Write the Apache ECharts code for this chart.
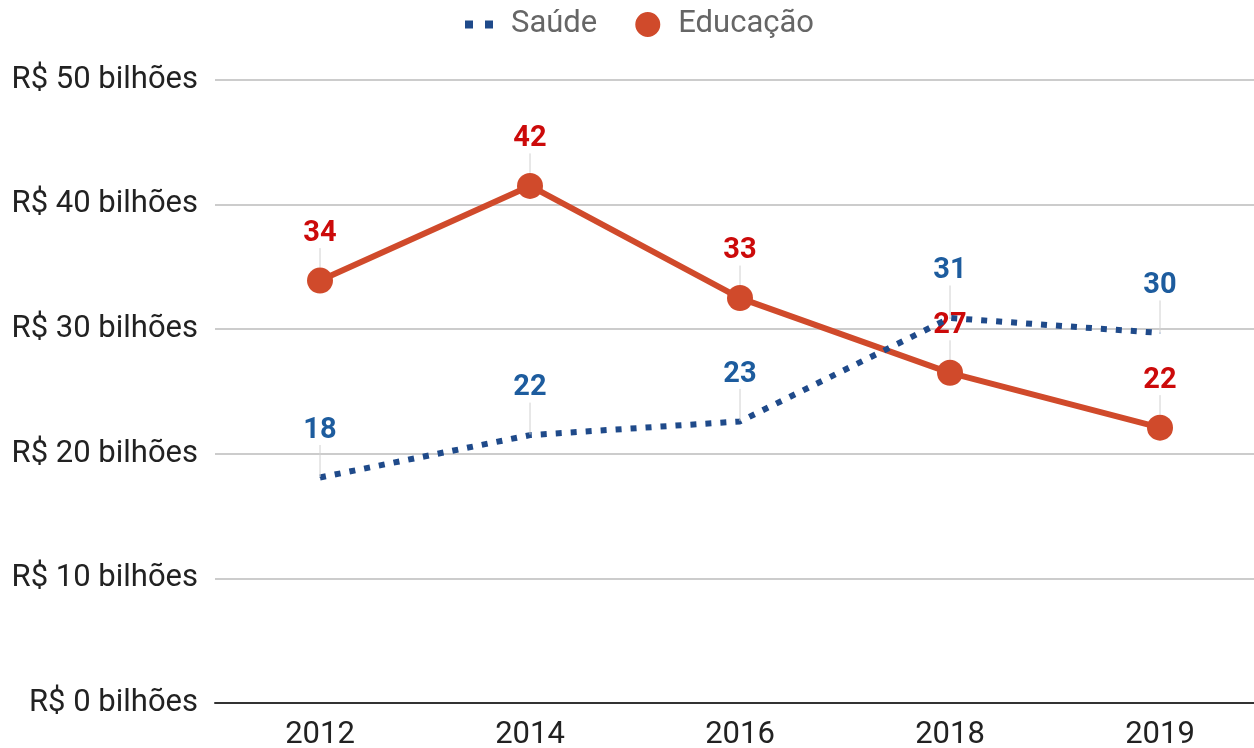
<!DOCTYPE html>
<html><head><meta charset="utf-8">
<script src="https://cdn.jsdelivr.net/npm/echarts@6/dist/echarts.min.js"></script>
<style>html,body{margin:0;padding:0;background:#fff}#c{width:1254px;height:748px}</style>
</head><body><div id="c"></div>
<script>
const categories = ['2012', '2014', '2016', '2018', '2019'];
const saude = [18.1, 21.5, 22.6, 30.9, 29.7];
const educacao = [33.9, 41.5, 32.5, 26.5, 22.1];
const yTicks = [0, 10, 20, 30, 40, 50];

const FONT = 'Roboto';
const chart = echarts.init(document.getElementById('c'));
const labelLine = { show: true, lineStyle: { color: '#d0d0d0', width: 1 } };
chart.setOption({
  animation: false,
  textStyle: { fontFamily: FONT },
  legend: {
    top: 4, left: 445, itemGap: 20,
    itemWidth: 56, itemHeight: 26,
    textStyle: { fontFamily: FONT, fontSize: 31, color: '#666' },
    data: [
      { name: 'Saúde', icon: 'path://M0,0L0,0.01M15,9h8v8h-8zM35,9h8v8h-8zM56,26L56,25.99', itemStyle: { color: '#1f4a8a' } },
      { name: 'Educação', icon: 'path://M0,0L0,0.01M18,13a12.5,12.5 0 1,0 25,0a12.5,12.5 0 1,0 -25,0zM56,26L56,25.99', itemStyle: { color: '#d04a2b' } }
    ]
  },
  grid: { left: 215, width: 1050, top: 80, bottom: 45, containLabel: false, outerBoundsMode: 'none' },
  xAxis: {
    type: 'category', data: categories, boundaryGap: true,
    axisLine: { lineStyle: { color: '#333', width: 2 } },
    axisTick: { show: false },
    axisLabel: { fontFamily: FONT, fontSize: 31, color: '#222', margin: 17 }
  },
  yAxis: {
    type: 'value', min: yTicks[0], max: yTicks[yTicks.length - 1], interval: 10,
    axisLine: { show: false }, axisTick: { show: false },
    splitLine: { lineStyle: { color: '#cccccc', width: 2 } },
    axisLabel: { fontFamily: FONT, fontSize: 31, color: '#222', margin: 17, padding: [6, 0, 0, 0],
      formatter: v => 'R$ ' + v + ' bilhões' }
  },
  series: [
    {
      name: 'Educação', type: 'line', data: educacao,
      symbol: 'circle', symbolSize: 26, z: 2,
      lineStyle: { color: '#d04a2b', width: 6 },
      itemStyle: { color: '#d04a2b' },
      label: { show: true, position: 'inside', fontFamily: FONT, fontSize: 29, fontWeight: 'bold', color: '#cc0a0a',
        formatter: p => Math.round(p.value) },
      labelLayout: { dy: -47 },
      labelLine: labelLine
    },
    {
      name: 'Saúde', type: 'line', data: saude,
      symbol: 'circle', symbolSize: 1, z: 3,
      lineStyle: { color: '#1f4a8a', width: 6, type: [6, 9], cap: 'butt' },
      itemStyle: { color: '#1f4a8a' },
      label: { show: true, position: 'inside', fontFamily: FONT, fontSize: 29, fontWeight: 'bold', color: '#1d5c9e',
        formatter: p => Math.round(p.value) },
      labelLayout: { dy: -47 },
      labelLine: labelLine
    }
  ]
});
</script></body></html>
